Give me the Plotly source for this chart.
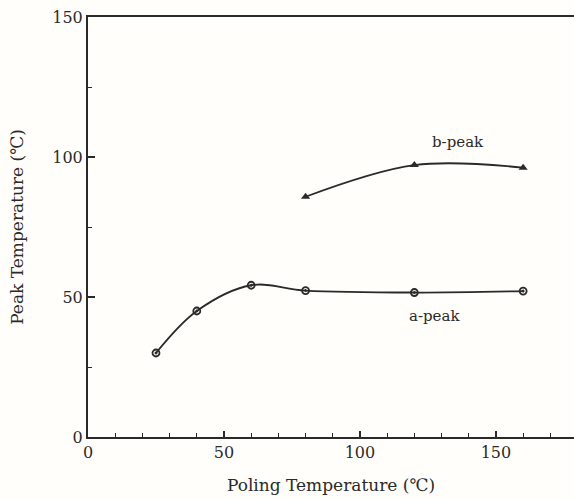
import plotly.graph_objects as go

# Data
a_x = [25, 40, 60, 80, 120, 160]
a_y = [30, 45, 54.2, 52.3, 51.6, 52.1]
b_x = [80, 120, 160]
b_y = [85.8, 97.1, 96.2]

x_ticks = [0, 50, 100, 150]
y_ticks = [0, 50, 100, 150]

font_family = "DejaVu Serif, Liberation Serif, serif"
ink = "#2a2a2a"

fig = go.Figure()
fig.add_trace(go.Scatter(
    x=a_x, y=a_y, mode="lines+markers",
    line=dict(color=ink, width=1.8, shape="spline", smoothing=1.0),
    marker=dict(symbol="circle-open-dot", size=7, color=ink, line=dict(width=1.8, color=ink)),
    showlegend=False,
))
fig.add_trace(go.Scatter(
    x=b_x, y=b_y, mode="lines+markers",
    line=dict(color=ink, width=1.8, shape="spline", smoothing=1.0),
    marker=dict(symbol="triangle-up", size=8, color=ink, angleref="up"),
    showlegend=False,
))

fig.add_annotation(x=136, y=105.5, text="b-peak", showarrow=False,
                   font=dict(family=font_family, size=15, color=ink))
fig.add_annotation(x=127.5, y=43.2, text="a-peak", showarrow=False,
                   font=dict(family=font_family, size=15, color=ink))

fig.update_layout(
    width=574, height=499,
    margin=dict(l=88, r=0, t=17, b=62),
    paper_bgcolor="#fffefa", plot_bgcolor="#fffefa",
    font=dict(family=font_family, size=16, color=ink),
)
fig.update_xaxes(
    range=[0, 178.7], tickvals=x_ticks, ticks="inside", ticklen=6, tickwidth=1.5,
    tickcolor=ink, showline=True, linecolor=ink, linewidth=2, mirror=True,
    showgrid=False, zeroline=False,
    minor=dict(dtick=10, tick0=0, ticks="inside", ticklen=4, tickwidth=1.3, tickcolor=ink, showgrid=False),
    title=dict(text="Poling Temperature (℃)", font=dict(size=17), standoff=18),
    tickfont=dict(size=16),
)
fig.update_yaxes(
    range=[0, 150], tickvals=y_ticks, ticks="inside", ticklen=7, tickwidth=1.5,
    tickcolor=ink, showline=True, linecolor=ink, linewidth=2, mirror=False,
    showgrid=False, zeroline=False,
    minor=dict(dtick=25, tick0=0, ticks="inside", ticklen=4, tickwidth=1.3, tickcolor=ink, showgrid=False),
    title=dict(text="Peak Temperature (℃)", font=dict(size=17), standoff=24),
    tickfont=dict(size=16),
)

fig.write_html("out.html")
